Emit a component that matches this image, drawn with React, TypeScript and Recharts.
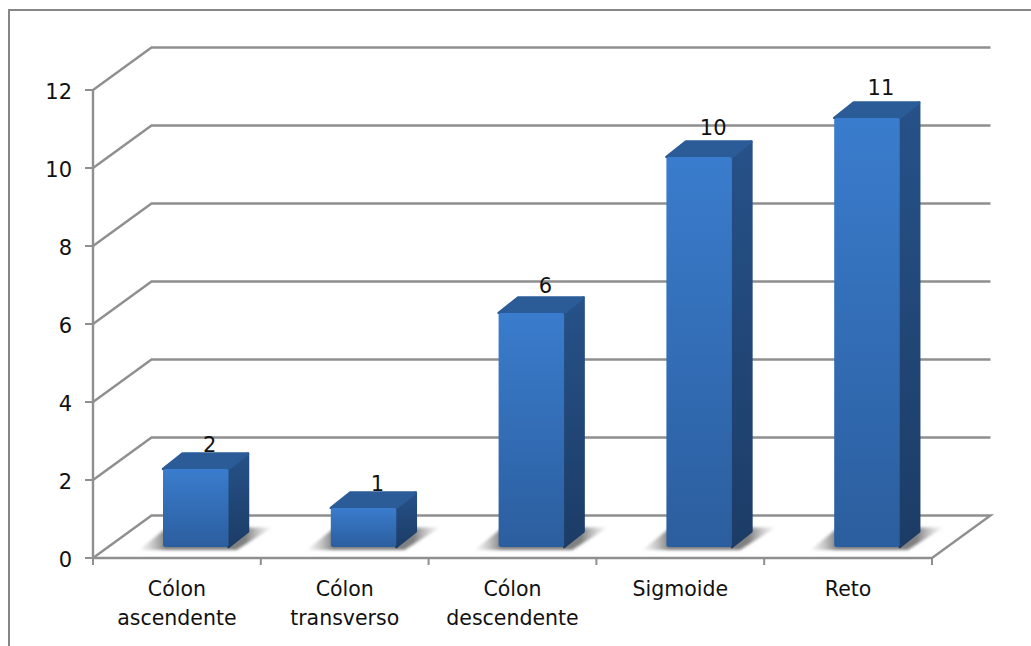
import React from "react";
import { BarChart, Bar, XAxis, YAxis, CartesianGrid, LabelList } from "recharts";

const categories = [["Cólon", "ascendente"], ["Cólon", "transverso"], ["Cólon", "descendente"], ["Sigmoide"], ["Reto"]];
const casos = [2, 1, 6, 10, 11];
const yTicks = [0, 2, 4, 6, 8, 10, 12];

const rows = categories.map((lines, i) => ({ name: lines.join(" "), lines, casos: casos[i] }));

const W = 1031;
const H = 646;
const PLOT = { left: 93, right: 932, top: 90, bottom: 558 };
const BAND = (PLOT.right - PLOT.left) / categories.length;
const WALL = { dx: 58.5, dy: -42.5 };
const BAR = { width: 65.5, shiftX: 19, shiftY: -11, dx: 19.5, dy: -15.5 };
const GRID = "#8f8f8f";
const FONT = "'DejaVu Sans', sans-serif";

// Wall lines: each value runs up the side wall and along the back wall.
function wallLine(props: any) {
  const { x1, x2, y1, index } = props;
  const bx = WALL.dx;
  const by = y1 + WALL.dy;
  const isFloor = Math.abs(y1 - PLOT.bottom) < 1;
  const pts = [`${x1},${y1}`, `${x1 + bx},${by}`, `${x2 + bx},${by}`];
  if (isFloor) pts.push(`${x2},${y1}`);
  return <polyline key={index} points={pts.join(" ")} fill="none" stroke={GRID} strokeWidth={2.4} />;
}

// A box with its soft floor shadow, drawn from the scaled bar rectangle.
function Box(props: any) {
  const { x, y, width, height } = props;
  const l = x + BAR.shiftX;
  const r = l + width;
  const t = y + BAR.shiftY;
  const b = t + height;
  const { dx, dy } = BAR;
  return (
    <g>
      <polygon
        points={`${l - 24},${b + 3} ${r + 8},${b + 3} ${r + dx + 24},${b + dy - 4} ${l + 4},${b + dy - 4}`}
        fill="url(#floorShade)"
        filter="url(#softShade)"
      />
      <path
        d={`M${r},${t} L${r + dx},${t + dy} L${r + dx},${b + dy} L${r},${b} Z`}
        fill="url(#sideFace)"
        stroke="url(#sideFace)"
        strokeWidth={2.5}
        strokeLinejoin="round"
      />
      <path
        d={`M${l},${t} L${l + dx},${t + dy} L${r + dx},${t + dy} L${r},${t} Z`}
        fill="#2b5c98"
        stroke="#2b5c98"
        strokeWidth={2.5}
        strokeLinejoin="round"
      />
      <rect x={l} y={t} width={width} height={height} rx={2.5} fill="url(#frontFace)" />
    </g>
  );
}

// The value sits a little higher over taller bars.
function ValueLabel(props: any) {
  const { x, y, width, height, value } = props;
  return (
    <text
      x={x + BAR.shiftX + width / 2 + 14}
      y={y + BAR.shiftY - 16 - height * 0.016}
      textAnchor="middle"
      fontFamily={FONT}
      fontSize={21}
      fill="#111"
    >
      {value}
    </text>
  );
}

// Category text centred on the band, with tick marks on the band boundaries.
function CategoryTick(props: any) {
  const { x, y, payload, index } = props;
  const lines = rows[index]?.lines ?? [payload.value];
  return (
    <g>
      <line x1={x - BAND / 2} x2={x - BAND / 2} y1={PLOT.bottom} y2={PLOT.bottom + 7} stroke={GRID} strokeWidth={2} />
      {index === rows.length - 1 && (
        <line x1={x + BAND / 2} x2={x + BAND / 2} y1={PLOT.bottom} y2={PLOT.bottom + 7} stroke={GRID} strokeWidth={2} />
      )}
      <text textAnchor="middle" fontFamily={FONT} fontSize={20.5} fill="#111">
        {lines.map((line: string, i: number) => (
          <tspan key={line} x={x} y={y + 30 + i * 29}>
            {line}
          </tspan>
        ))}
      </text>
    </g>
  );
}

// Value-axis label, nudged down a little from the tick line.
function ValueTick(props: any) {
  const { x, y, payload } = props;
  return (
    <text x={x} y={y + 9} textAnchor="end" fontFamily={FONT} fontSize={21} fill="#111">
      {payload.value}
    </text>
  );
}

export default function App() {
  return (
    <div style={{ position: "absolute", left: 0, top: 0, width: W, height: H, overflow: "hidden", background: "#fff" }}>
      <div
        style={{
          position: "absolute",
          left: 8,
          top: 9,
          width: W,
          height: H,
          borderLeft: "2.5px solid #868686",
          borderTop: "2.5px solid #868686",
        }}
      />
      <BarChart
        width={W}
        height={H}
        data={rows}
        margin={{ top: PLOT.top, right: W - PLOT.right, bottom: 0, left: 0 }}
        barSize={BAR.width}
        style={{ position: "absolute", left: 0, top: 0 }}
      >
        <defs>
          <linearGradient id="frontFace" x1="0" y1="0" x2="0" y2="1">
            <stop offset="0" stopColor="#3a7ccd" />
            <stop offset="1" stopColor="#2b5e9e" />
          </linearGradient>
          <linearGradient id="sideFace" x1="0" y1="0" x2="0" y2="1">
            <stop offset="0" stopColor="#265289" />
            <stop offset="1" stopColor="#1c3c66" />
          </linearGradient>
          <linearGradient id="floorShade" x1="0" y1="0" x2="1" y2="0">
            <stop offset="0" stopColor="#bbb" stopOpacity={0.1} />
            <stop offset="0.2" stopColor="#808080" />
            <stop offset="0.8" stopColor="#808080" />
            <stop offset="1" stopColor="#bbb" stopOpacity={0.1} />
          </linearGradient>
          <filter id="softShade" x="-20%" y="-40%" width="140%" height="180%">
            <feGaussianBlur stdDeviation="1.6" />
          </filter>
        </defs>
        <CartesianGrid vertical={false} horizontal={wallLine} />
        <XAxis
          dataKey="name"
          height={H - PLOT.bottom}
          interval={0}
          tickLine={false}
          axisLine={{ stroke: GRID, strokeWidth: 2.4 }}
          tick={CategoryTick}
        />
        <YAxis
          width={PLOT.left}
          domain={[0, 12]}
          ticks={yTicks}
          interval={0}
          tickSize={8}
          tickMargin={13}
          tickLine={{ stroke: GRID, strokeWidth: 2 }}
          axisLine={{ stroke: GRID, strokeWidth: 2.4 }}
          tick={ValueTick}
        />
        <Bar dataKey="casos" shape={Box} isAnimationActive={false}>
          <LabelList dataKey="casos" content={ValueLabel} />
        </Bar>
      </BarChart>
    </div>
  );
}
